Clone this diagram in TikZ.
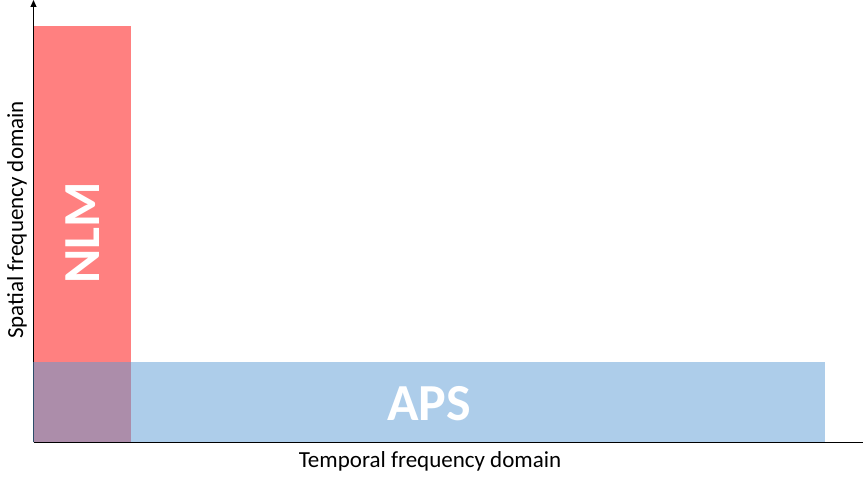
\documentclass[tikz,border=0pt]{standalone}
\usepackage{fontspec}
\setmainfont{Carlito}
\usetikzlibrary{arrows.meta}
\definecolor{nlmred}{HTML}{FF8080}
\definecolor{apsblue}{HTML}{5B9BD5}
\tikzset{
  axisline/.style={line width=1pt, black},
  bigtext/.style={text=white, font=\fontsize{52}{52}\selectfont\bfseries, inner sep=0pt},
  axislabel/.style={font=\fontsize{23}{23}\selectfont, inner sep=0pt}
}
\begin{document}
\begin{tikzpicture}[x=1pt,y=-1pt]
\useasboundingbox (0,0) rectangle (863,481);
% axes
\coordinate (o) at (33.5,442);
\coordinate (ytop) at (33.5,0);
\coordinate (xend) at (863,442);
\draw[axisline, -{Triangle[length=7pt,width=6pt]}] (o) -- (ytop);
\draw[axisline] (o) -- (xend);
% rectangles
\fill[nlmred] (33.5,26) rectangle (131,442);
\fill[apsblue, fill opacity=0.5] (33,362) rectangle (825,442);
% texts
\node[bigtext, rotate=90] (nlm) at (83,233) {NLM};
\node[bigtext] (aps) at (429,404) {APS};
\node[axislabel] (xl) at (430,461) {Temporal frequency domain};
\node[axislabel, rotate=90] (yl) at (17,220) {Spatial frequency domain};
\end{tikzpicture}
\end{document}
